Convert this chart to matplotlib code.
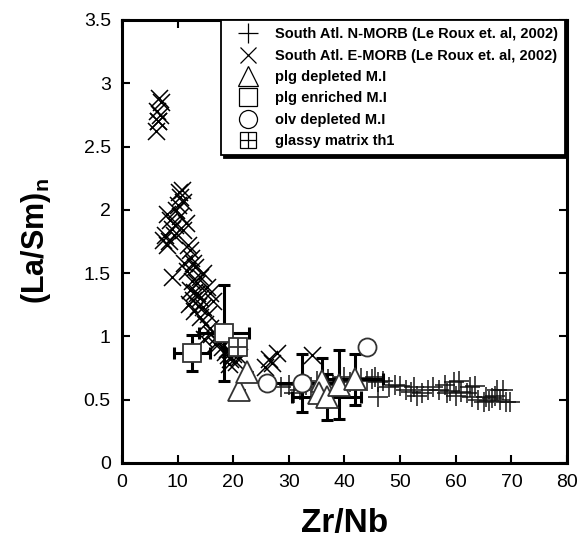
import matplotlib
matplotlib.use("Agg")
import matplotlib.pyplot as plt
from matplotlib.lines import Line2D
from matplotlib.legend_handler import HandlerTuple

plt.rcParams['font.family'] = ['Liberation Sans', 'DejaVu Sans']
plt.rcParams['mathtext.fontset'] = 'custom'
plt.rcParams['mathtext.rm'] = 'Liberation Sans'
plt.rcParams['mathtext.bf'] = 'Liberation Sans:bold'

# ---- data ----
emorb_x = [6.2, 6.5, 6.8, 6.3, 7.0, 6.7, 6.5,
           10.0, 10.4, 10.8, 10.2, 9.8, 11.0, 8.1, 8.6, 9.0, 9.4, 7.4, 8.1, 7.8, 8.5,
           11.0, 10.5, 11.5, 9.5, 12.2, 11.8, 12.8, 11.7, 12.4, 13.2, 9.0,
           14.0, 13.5, 15.3, 14.6, 12.2, 12.8, 13.4, 14.6, 15.8, 16.3, 14.0, 13.0,
           12.5, 14.0, 15.0, 15.8, 17.0, 16.0, 14.8, 17.5, 18.0, 18.5, 19.0, 19.5,
           20.0, 20.5, 21.0, 19.2, 18.9, 16.8, 13.7, 12.0, 11.2, 13.0, 15.5,
           27.9, 27.0, 25.7, 34.2, 26.5]
emorb_y = [2.62, 2.70, 2.75, 2.78, 2.85, 2.88, 2.70,
           2.04, 2.10, 2.16, 2.14, 2.00, 2.06, 1.97, 1.92, 1.85, 1.80, 1.76, 1.72, 1.80, 1.75,
           1.84, 1.95, 1.90, 1.88, 1.68, 1.72, 1.58, 1.52, 1.62, 1.55, 1.47,
           1.47, 1.42, 1.39, 1.50, 1.37, 1.29, 1.34, 1.23, 1.34, 1.28, 1.15, 1.20,
           1.44, 1.30, 1.10, 1.07, 1.00, 1.02, 0.98, 0.95, 0.92, 0.88, 0.85, 0.82,
           0.86, 0.80, 0.84, 0.78, 0.90, 0.94, 1.24, 1.26, 1.58, 1.35, 1.18,
           0.87, 0.79, 0.76, 0.85, 0.82]

nmorb_x = [28.5, 30, 31, 32, 33, 34, 35, 36, 37, 38, 39, 40, 41, 42, 43, 44, 45, 45.5,
           46, 47, 46, 48, 49, 50, 51, 52, 52.5, 53, 54, 55, 56, 57, 58, 58.5, 59, 60,
           60.5, 61, 62, 62.5, 63, 64, 65, 65.5, 66, 66.5, 67, 67.5, 68, 69, 59.7, 63.5,
           68.5, 69.8]
nmorb_y = [0.60, 0.62, 0.55, 0.58, 0.62, 0.60, 0.65, 0.63, 0.66, 0.62, 0.65, 0.68, 0.64,
           0.66, 0.67, 0.65, 0.66, 0.68, 0.64, 0.65, 0.52, 0.60, 0.62, 0.61, 0.58, 0.56,
           0.60, 0.53, 0.55, 0.58, 0.60, 0.58, 0.62, 0.55, 0.57, 0.53, 0.65, 0.56, 0.55,
           0.60, 0.52, 0.50, 0.48, 0.52, 0.49, 0.51, 0.53, 0.58, 0.50, 0.48, 0.64, 0.61,
           0.58, 0.48]

plg_dep_x = [21.0, 22.5, 36.0, 35.5, 36.8, 39.0, 41.9]
plg_dep_y = [0.58, 0.72, 0.65, 0.55, 0.52, 0.62, 0.66]
plg_dep_xerr = [0, 0, 0, 0, 6.2, 0, 5.0]
plg_dep_yerr = [0, 0, 0.18, 0, 0.18, 0.27, 0.20]

plg_enr_x = [12.6, 18.3]
plg_enr_y = [0.87, 1.03]
plg_enr_xerr = [3.2, 4.5]
plg_enr_yerr = [0.14, 0.38]

olv_dep_x = [26.0, 32.4, 44.0]
olv_dep_y = [0.63, 0.63, 0.92]
olv_dep_xerr = [0, 5.8, 0]
olv_dep_yerr = [0, 0.23, 0]

glass_x = [20.8]
glass_y = [0.92]

labels = ["South Atl. N-MORB (Le Roux et. al, 2002)",
          "South Atl. E-MORB (Le Roux et. al, 2002)",
          "plg depleted M.I", "plg enriched M.I", "olv depleted M.I",
          "glassy matrix th1"]

# ---- figure ----
fig = plt.figure(figsize=(5.8, 5.4), dpi=100)
ax = fig.add_axes([0.2103, 0.1426, 0.7673, 0.8204])

ax.scatter(emorb_x, emorb_y, marker='x', s=150, c='black', linewidths=1.1, zorder=2)
ax.scatter(nmorb_x, nmorb_y, marker='+', s=220, c='#111111', linewidths=1.2,
           alpha=0.9, zorder=2)

eb = dict(fmt='none', ecolor='black', elinewidth=2.2, capsize=4.5, capthick=2.2, zorder=3)
ax.errorbar(plg_dep_x, plg_dep_y, xerr=plg_dep_xerr, yerr=plg_dep_yerr, **eb)
ax.errorbar(plg_enr_x, plg_enr_y, xerr=plg_enr_xerr, yerr=plg_enr_yerr, **eb)
ax.errorbar(olv_dep_x, olv_dep_y, xerr=olv_dep_xerr, yerr=olv_dep_yerr, **eb)

mk = dict(linestyle='none', markerfacecolor='white', markeredgecolor='#333333',
          markeredgewidth=1.3, zorder=4)
ax.plot(plg_dep_x, plg_dep_y, marker='^', markersize=16, **mk)
ax.plot(plg_enr_x, plg_enr_y, marker='s', markersize=13.5, **mk)
ax.plot(olv_dep_x, olv_dep_y, marker='o', markersize=13, **mk)
ax.plot(glass_x, glass_y, marker='s', markersize=13, **mk)
ax.plot(glass_x, glass_y, marker='+', markersize=13, linestyle='none',
        markeredgecolor='#333333', markeredgewidth=1.3, zorder=5)

ax.set_xlim(0, 80)
ax.set_ylim(0, 3.5)
ax.set_xticks(range(0, 81, 10))
ax.set_yticks([0, 0.5, 1, 1.5, 2, 2.5, 3, 3.5])
ax.set_yticklabels(['0', '0.5', '1', '1.5', '2', '2.5', '3', '3.5'])
ax.tick_params(direction='in', length=6, width=1.5, top=True, right=True,
               labelsize=14, pad=8)
for sp in ax.spines.values():
    sp.set_linewidth(2.2)

ax.set_xlabel('Zr/Nb', fontsize=24, fontweight='bold', labelpad=12)
ax.set_ylabel(r'$\mathbf{(La/Sm)_n}$', fontsize=22, labelpad=22)

# legend
h_n = Line2D([], [], marker='+', markersize=15, linestyle='none', color='black',
             markeredgewidth=0.9)
h_e = Line2D([], [], marker='x', markersize=12, linestyle='none', color='black',
             markeredgewidth=0.9)
lm = dict(linestyle='none', markerfacecolor='white', markeredgecolor='black',
          markeredgewidth=0.9)
h_t = Line2D([], [], marker='^', markersize=14, **lm)
h_s = Line2D([], [], marker='s', markersize=13, **lm)
h_c = Line2D([], [], marker='o', markersize=13, **lm)
h_g1 = Line2D([], [], marker='s', markersize=12, **lm)
h_g2 = Line2D([], [], marker='+', markersize=12, linestyle='none', color='black',
              markeredgewidth=0.9)
leg = ax.legend([h_n, h_e, h_t, h_s, h_c, (h_g1, h_g2)], labels,
                handler_map={tuple: HandlerTuple(ndivide=1, pad=0)},
                loc='upper right', bbox_to_anchor=(0.9955, 0.9995),
                frameon=True, fancybox=False, shadow={'color': 'black', 'alpha': 1.0},
                prop={'weight': 'bold', 'size': 10.5}, handlelength=2.7,
                handletextpad=0.5, labelspacing=0.5, borderpad=0.5,
                borderaxespad=0)
leg.get_frame().set_edgecolor('black')
leg.get_frame().set_linewidth(1.3)

fig.savefig('out.png', dpi=100)
